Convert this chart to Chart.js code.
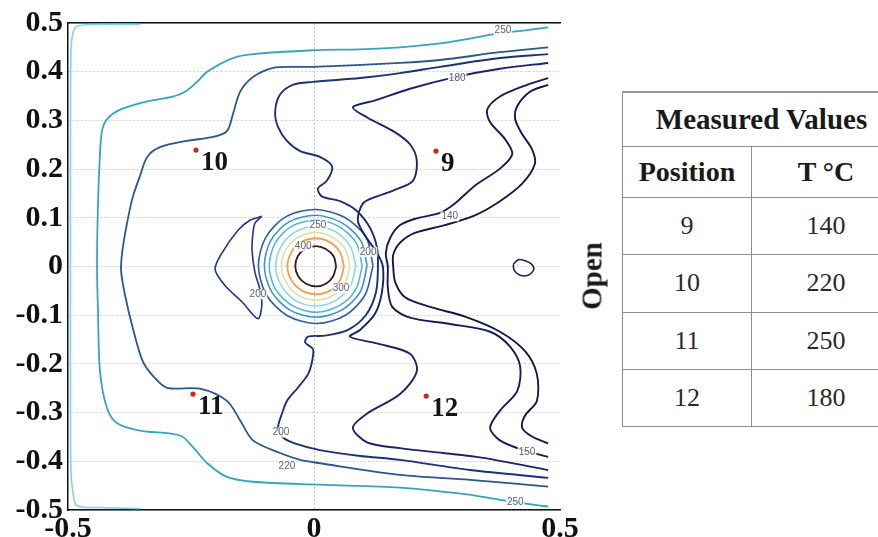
<!DOCTYPE html>
<html>
<head>
<meta charset="utf-8">
<script src="https://cdn.jsdelivr.net/npm/chart.js@4.4.1/dist/chart.umd.min.js"></script>
<style>
  html, body { margin: 0; padding: 0; background: #fff; }
  body { width: 878px; height: 537px; overflow: hidden; position: relative; font-family: "Liberation Serif", "DejaVu Serif", serif; color: #1a1a1a; }
  #plot { position: absolute; left: 0; top: 0; }
  #open { position: absolute; left: 592px; top: 276px; transform: translate(-50%, -50%) rotate(-90deg); font-family: "Liberation Serif", serif; font-weight: bold; font-size: 29px; white-space: nowrap; }
  #tbl { position: absolute; left: 622px; top: 91px; border-collapse: collapse; table-layout: fixed; width: 278px; font-family: "Liberation Serif", serif; }
  #tbl td { border: 1.5px solid #8d8d8d; text-align: center; vertical-align: middle; padding: 0; font-family: "Liberation Serif", serif; font-size: 26px; color: #2a2a2a; }
  #tbl tr:first-child td { border-top: 2.5px solid #999; }
  #tbl td.h { font-weight: bold; font-size: 28px; color: #1a1a1a; }
</style>
</head>
<body>
<canvas id="plot" width="600" height="537"></canvas>
<div id="open">Open</div>
<table id="tbl"></table>
<script>
// axis ticks
const xTickValues = [-0.5, 0, 0.5];
const yTickValues = [0.5, 0.4, 0.3, 0.2, 0.1, 0, -0.1, -0.2, -0.3, -0.4, -0.5];

// measured positions (red dots)
const pointNames = ['9', '10', '11', '12'];
const pointX = [0.248, -0.240, -0.246, 0.228];
const pointY = [0.237, 0.239, -0.262, -0.266];

// table
const tableTitle = 'Measured Values';
const tableHeads = ['Position', 'T °C'];
const positions = ['9', '10', '11', '12'];
const measuredT = [140, 220, 250, 180];

// contour lines, [x, y]
const c260 = [[-0.354,0.497],[-0.455,0.497],[-0.482,0.493],[-0.490,0.479],[-0.494,0.444],[-0.495,0.231],[-0.495,0],[-0.495,-0.276],[-0.494,-0.418],[-0.490,-0.464],[-0.482,-0.491],[-0.435,-0.495],[-0.354,-0.497]];

const c250 = [[0.476,0.491],[0.429,0.485],[0.378,0.479],[0.317,0.468],[0.256,0.458],[0.175,0.450],[0.094,0.446],[-0.002,0.444],[-0.124,0.436],[-0.165,0.428],[-0.217,0.400],[-0.238,0.379],[-0.262,0.359],[-0.287,0.349],[-0.339,0.339],[-0.394,0.322],[-0.421,0.302],[-0.431,0.278],[-0.435,0.231],[-0.439,0.130],[-0.441,0],[-0.439,-0.093],[-0.435,-0.215],[-0.421,-0.290],[-0.400,-0.322],[-0.354,-0.337],[-0.272,-0.347],[-0.246,-0.371],[-0.217,-0.404],[-0.177,-0.432],[-0.124,-0.442],[0.012,-0.448],[0.175,-0.454],[0.311,-0.468],[0.378,-0.479],[0.445,-0.489],[0.476,-0.493]];

const c220 = [[0.476,0.450],[0.378,0.440],[0.256,0.424],[0.175,0.418],[-0.002,0.410],[-0.028,0.410],[-0.083,0.408],[-0.124,0.389],[-0.150,0.359],[-0.165,0.312],[-0.177,0.278],[-0.205,0.266],[-0.258,0.258],[-0.313,0.245],[-0.339,0.225],[-0.354,0.185],[-0.368,0.144],[-0.380,0.089],[-0.390,0.028],[-0.392,-0.010],[-0.384,-0.059],[-0.368,-0.128],[-0.348,-0.195],[-0.327,-0.225],[-0.299,-0.249],[-0.232,-0.251],[-0.177,-0.276],[-0.150,-0.316],[-0.124,-0.357],[-0.069,-0.383],[-0.028,-0.397],[0.012,-0.404],[0.175,-0.428],[0.317,-0.438],[0.476,-0.452]];

const c200 = [[0.476,0.436],[0.378,0.428],[0.256,0.410],[0.175,0.397],[0.094,0.387],[-0.002,0.379],[-0.043,0.373],[-0.069,0.353],[-0.079,0.318],[-0.073,0.286],[-0.055,0.258],[-0.028,0.237],[0.012,0.225],[0.037,0.205],[0.026,0.176],[0.008,0.160],[0.016,0.144],[0.053,0.134],[0.087,0.114],[0.114,0.079],[0.128,0.039],[0.130,0],[0.126,-0.053],[0.106,-0.099],[0.069,-0.130],[0.022,-0.142],[-0.012,-0.144],[-0.018,-0.156],[-0.002,-0.170],[-0.004,-0.195],[-0.012,-0.221],[-0.033,-0.249],[-0.055,-0.276],[-0.065,-0.302],[-0.073,-0.331],[-0.063,-0.351],[-0.039,-0.363],[0.012,-0.377],[0.094,-0.389],[0.175,-0.397],[0.317,-0.418],[0.476,-0.434]];

const c180 = [[0.476,0.418],[0.378,0.406],[0.287,0.389],[0.195,0.365],[0.124,0.341],[0.079,0.327],[0.108,0.306],[0.161,0.278],[0.195,0.251],[0.209,0.217],[0.201,0.176],[0.161,0.156],[0.128,0.144],[0.100,0.130],[0.089,0.095],[0.104,0.063],[0.128,0.028],[0.140,0],[0.138,-0.053],[0.124,-0.097],[0.094,-0.130],[0.073,-0.144],[0.128,-0.158],[0.195,-0.179],[0.209,-0.215],[0.175,-0.262],[0.108,-0.302],[0.079,-0.331],[0.108,-0.361],[0.175,-0.373],[0.262,-0.383],[0.344,-0.393],[0.476,-0.418]];

const c160 = [[0.476,0.387],[0.433,0.373],[0.378,0.349],[0.352,0.322],[0.358,0.296],[0.388,0.262],[0.403,0.231],[0.378,0.201],[0.327,0.166],[0.287,0.130],[0.256,0.110],[0.209,0.099],[0.175,0.085],[0.155,0.059],[0.146,0.028],[0.150,0],[0.150,-0.043],[0.159,-0.083],[0.195,-0.105],[0.276,-0.118],[0.358,-0.134],[0.398,-0.164],[0.419,-0.205],[0.413,-0.256],[0.378,-0.296],[0.358,-0.331],[0.378,-0.357],[0.425,-0.377],[0.476,-0.391]];

const c140 = [[0.476,0.373],[0.439,0.359],[0.413,0.329],[0.409,0.302],[0.423,0.272],[0.443,0.241],[0.449,0.211],[0.423,0.170],[0.378,0.134],[0.327,0.105],[0.266,0.085],[0.205,0.069],[0.175,0.049],[0.161,0.024],[0.161,0],[0.165,-0.032],[0.185,-0.063],[0.236,-0.083],[0.307,-0.103],[0.378,-0.134],[0.429,-0.174],[0.453,-0.221],[0.453,-0.276],[0.429,-0.306],[0.423,-0.331],[0.443,-0.349],[0.476,-0.363]];

const island200 = [[-0.106,0.103],[-0.120,0.089],[-0.124,0.069],[-0.126,0.034],[-0.120,-0.012],[-0.110,-0.047],[-0.106,-0.079],[-0.114,-0.107],[-0.146,-0.073],[-0.181,-0.039],[-0.201,-0.006],[-0.187,0.028],[-0.154,0.075],[-0.130,0.095],[-0.106,0.103]];

const spot150 = [[0.405,0.004],[0.415,0.014],[0.429,0.012],[0.441,0.006],[0.447,-0.006],[0.435,-0.018],[0.419,-0.018],[0.407,-0.008],[0.405,0.004]];

// rings round the hot spot, outer to inner
const ring250 = [[0.120,0.002],[0.106,0.060],[0.062,0.101],[0.004,0.117],[-0.056,0.103],[-0.098,0.060],[-0.113,0.002],[-0.097,-0.058],[-0.054,-0.101],[0.006,-0.117],[0.064,-0.100],[0.104,-0.058],[0.120,0.002]];
const ring270 = [[0.108,0.002],[0.095,0.053],[0.056,0.090],[0.004,0.105],[-0.050,0.092],[-0.088,0.053],[-0.101,0.000],[-0.086,-0.052],[-0.048,-0.090],[0.005,-0.104],[0.057,-0.089],[0.094,-0.052],[0.108,0.002]];
const ring300 = [[0.098,0.001],[0.086,0.048],[0.051,0.082],[0.004,0.095],[-0.045,0.083],[-0.079,0.048],[-0.091,0.000],[-0.078,-0.047],[-0.043,-0.081],[0.005,-0.094],[0.052,-0.080],[0.085,-0.047],[0.098,0.001]];
const ring330 = [[0.085,0.001],[0.074,0.041],[0.044,0.071],[0.004,0.082],[-0.038,0.071],[-0.067,0.041],[-0.078,0.000],[-0.066,-0.040],[-0.037,-0.070],[0.005,-0.081],[0.045,-0.069],[0.074,-0.040],[0.085,0.001]];
const ring370 = [[0.073,0.000],[0.064,0.035],[0.038,0.060],[0.004,0.070],[-0.032,0.060],[-0.057,0.035],[-0.066,0.000],[-0.056,-0.034],[-0.031,-0.060],[0.005,-0.069],[0.039,-0.059],[0.063,-0.034],[0.073,0.000]];
const ring400 = [[0.061,0.000],[0.053,0.029],[0.032,0.050],[0.004,0.058],[-0.026,0.050],[-0.046,0.029],[-0.054,0.000],[-0.046,-0.028],[-0.025,-0.049],[0.005,-0.057],[0.033,-0.049],[0.053,-0.028],[0.061,0.000]];
const ring450 = [[0.045,0.000],[0.040,0.021],[0.024,0.036],[0.004,0.042],[-0.018,0.036],[-0.033,0.021],[-0.038,0.000],[-0.032,-0.020],[-0.017,-0.035],[0.005,-0.041],[0.025,-0.035],[0.039,-0.020],[0.045,0.000]];

// small level labels on the lines
const levelText = ['250', '180', '140', '150', '250', '220', '200', '200', '250', '400', '300', '200'];
const levelX = [0.384, 0.291, 0.276, 0.433, 0.409, -0.055, -0.067, -0.114, 0.008, -0.022, 0.055, 0.110];
const levelY = [0.485, 0.387, 0.103, -0.381, -0.485, -0.410, -0.341, -0.057, 0.085, 0.041, -0.045, 0.030];

const lines = [
  { pts: c260, color: '#7dd6e8', w: 1.6 },
  { pts: c250, color: '#35a6b8', w: 1.8 },
  { pts: c220, color: '#29588c', w: 1.8 },
  { pts: c200, color: '#1f307a', w: 1.9 },
  { pts: c180, color: '#1a2468', w: 1.9 },
  { pts: c160, color: '#161d56', w: 1.9 },
  { pts: c140, color: '#121849', w: 1.9 },
  { pts: island200, color: '#22368a', w: 1.6 },
  { pts: spot150, color: '#1c2158', w: 1.6 },
  { pts: ring250, color: '#2f5aa8', w: 1.6 },
  { pts: ring270, color: '#3a92c2', w: 1.5 },
  { pts: ring300, color: '#48b8d6', w: 1.5 },
  { pts: ring330, color: '#86d6e4', w: 1.5 },
  { pts: ring370, color: '#d6e2a2', w: 1.5 },
  { pts: ring400, color: '#eea24c', w: 1.8 },
  { pts: ring450, color: '#3a1c12', w: 1.8 }
];

const fmt = v => { const r = Math.round(v * 10) / 10; return r === 0 ? '0' : String(r); };
const serifBold = size => ({ family: '"Liberation Serif", "DejaVu Serif", serif', weight: 'bold', size: size });

const datasets = [{
  data: pointX.map((x, i) => ({ x: x, y: pointY[i] })),
  showLine: false,
  pointRadius: 2.6,
  backgroundColor: '#d42525',
  borderWidth: 0,
  order: 0
}];
lines.forEach(l => {
  datasets.push({
    data: l.pts.map(p => ({ x: p[0], y: p[1] })),
    showLine: true,
    pointRadius: 0,
    borderColor: l.color,
    borderWidth: l.w,
    tension: 0.3,
    fill: false,
    order: 1
  });
});

// point names and level labels
const textPlugin = {
  id: 'texts',
  afterDatasetsDraw(chart) {
    const { ctx, scales: { x, y } } = chart;
    ctx.save();
    ctx.font = '10px "Liberation Sans", Arial, sans-serif';
    ctx.textAlign = 'center';
    ctx.textBaseline = 'middle';
    levelText.forEach((t, i) => {
      const px = x.getPixelForValue(levelX[i]);
      const py = y.getPixelForValue(levelY[i]);
      const w = ctx.measureText(t).width;
      ctx.fillStyle = 'rgba(255,255,255,0.85)';
      ctx.fillRect(px - w / 2 - 1, py - 5, w + 2, 10);
      ctx.fillStyle = '#5a6470';
      ctx.fillText(t, px, py);
    });
    const meta = chart.getDatasetMeta(0);
    ctx.font = 'bold 27px "Liberation Serif", "DejaVu Serif", serif';
    ctx.textAlign = 'left';
    ctx.fillStyle = '#151515';
    meta.data.forEach((pt, i) => {
      ctx.fillText(pointNames[i], pt.x + 5, pt.y + 13);
    });
    ctx.restore();
  }
};

new Chart(document.getElementById('plot'), {
  type: 'scatter',
  data: { datasets: datasets },
  options: {
    responsive: false,
    animation: false,
    layout: { padding: { top: 17, right: 40, left: 0, bottom: 0 } },
    plugins: { legend: { display: false }, tooltip: { enabled: false } },
    scales: {
      x: {
        type: 'linear', min: -0.5, max: 0.5,
        afterBuildTicks: s => { s.ticks = xTickValues.map(v => ({ value: v })); },
        ticks: { font: serifBold(30), color: '#111', padding: 1, maxRotation: 0, autoSkip: false, callback: v => fmt(v) },
        grid: { drawTicks: false, lineWidth: 1, color: c => (c.tick && c.tick.value === 0) ? '#bdbdbd' : 'rgba(0,0,0,0)' },
        border: { display: true, color: '#111', width: 1.5, dash: [2, 2] },
        afterFit: s => { s.height = 27; }
      },
      x2: {
        type: 'linear', position: 'top', min: -0.5, max: 0.5,
        ticks: { display: false },
        grid: { display: false, drawTicks: false },
        border: { display: true, color: '#111', width: 1.5 },
        afterFit: s => { s.height = 0; }
      },
      y: {
        type: 'linear', min: -0.5, max: 0.5,
        afterBuildTicks: s => { s.ticks = yTickValues.map(v => ({ value: v })); },
        ticks: { font: serifBold(30), color: '#111', padding: 5, autoSkip: false, callback: v => fmt(v) },
        grid: { drawTicks: false, lineWidth: 1, color: '#cfcfcf' },
        border: { display: true, color: '#111', width: 1.5, dash: [2, 2] },
        afterFit: s => { s.width = 68; }
      }
    }
  },
  plugins: [textPlugin]
});

// table from the arrays
const tbl = document.getElementById('tbl');
const rowHeights = [54, 51, 57, 58, 57, 57];
let html = '<colgroup><col style="width:129px"><col style="width:149px"></colgroup>';
html += '<tr style="height:' + rowHeights[0] + 'px"><td class="h" colspan="2" style="font-size:29px">' + tableTitle + '</td></tr>';
html += '<tr style="height:' + rowHeights[1] + 'px"><td class="h">' + tableHeads[0] + '</td><td class="h">' + tableHeads[1] + '</td></tr>';
positions.forEach((p, i) => {
  html += '<tr style="height:' + rowHeights[i + 2] + 'px"><td>' + p + '</td><td>' + measuredT[i] + '</td></tr>';
});
tbl.innerHTML = html;
</script>
</body>
</html>
